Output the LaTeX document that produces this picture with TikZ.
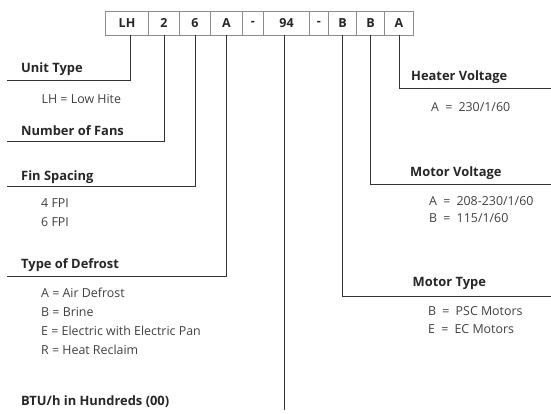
\documentclass[tikz,border=0pt]{standalone}
\usepackage{fontspec}
\setmainfont{Open Sans}
\usetikzlibrary{positioning}

\begin{document}
\begin{tikzpicture}[x=1pt, y=-1pt,
    digit/.style={draw=black!45, line width=0.8pt, minimum height=23.5pt, inner sep=0pt, text=black!85, font=\bfseries\fontsize{12.5}{14}\selectfont},
    lead/.style={draw=black!80, line width=0.9pt},
    heading/.style={anchor=base west, inner sep=0pt, text=black!85, font=\bfseries\fontsize{12.9}{15}\selectfont},
    entry/.style={anchor=base west, inner sep=0pt, text=black!75, font=\fontsize{12.4}{14}\selectfont}]
    \useasboundingbox (0,0) rectangle (551,413);

    % model number boxes
    \node[digit, minimum width=43pt] (lh) at (127, 23.3) {LH};
    \node[digit, minimum width=31pt] (fans) at (164, 23.3) {2};
    \node[digit, minimum width=31pt] (fin) at (195, 23.3) {6};
    \node[digit, minimum width=32pt] (defrost) at (226.5, 23.3) {A};
    \node[digit, minimum width=21pt] (dash1) at (253, 23.3) {-};
    \node[digit, minimum width=46pt] (btu) at (286.5, 23.3) {94};
    \node[digit, minimum width=19pt] (dash2) at (319, 23.3) {-};
    \node[digit, minimum width=28pt] (mtype) at (342.5, 23.3) {B};
    \node[digit, minimum width=28pt] (mvolt) at (370.5, 23.3) {B};
    \node[digit, minimum width=29pt] (hvolt) at (399, 23.3) {A};

    % left side
    \node[heading] (unithead) at (21, 72.7) {Unit Type};
    \node[entry] (unitlh) at (41.5, 103) {LH = Low Hite};
    \node[heading] (fanshead) at (21, 135) {Number of Fans};
    \node[heading] (finhead) at (21, 180) {Fin Spacing};
    \node[entry] (fin4) at (41, 207.7) {4 FPI};
    \node[entry] (fin6) at (41, 226.7) {6 FPI};
    \node[heading] (defhead) at (21, 268.5) {Type of Defrost};
    \node[entry] (defa) at (41, 297) {A = Air Defrost};
    \node[entry] (defb) at (41, 316) {B = Brine};
    \node[entry] (defe) at (41, 335.5) {E = Electric with Electric Pan};
    \node[entry] (defr) at (41, 354.5) {R = Heat Reclaim};
    \node[heading] (btuhead) at (21, 405) {BTU/h in Hundreds (00)};

    % right side
    \node[heading] (hvhead) at (411, 80.7) {Heater Voltage};
    \node[entry] (hva) at (431, 111.7) {A\enspace=\enspace230/1/60};
    \node[heading] (mvhead) at (410, 176) {Motor Voltage};
    \node[entry] (mva) at (429, 205) {A\enspace=\enspace208-230/1/60};
    \node[entry] (mvb) at (429, 222.5) {B\enspace=\enspace115/1/60};
    \node[heading] (mthead) at (412.5, 286) {Motor Type};
    \node[entry] (mtb) at (428, 315.7) {B\enspace=\enspace PSC Motors};
    \node[entry] (mte) at (428, 333.5) {E\enspace=\enspace EC Motors};

    % leader lines
    \coordinate (unitend) at (7, 80.7);
    \coordinate (fansend) at (7, 141.7);
    \coordinate (finend) at (7, 186.7);
    \coordinate (defend) at (7, 276.7);
    \coordinate (btuend) at (284, 410);
    \coordinate (mtend) at (551, 296.7);
    \coordinate (mvend) at (551, 184.5);
    \coordinate (hvend) at (551, 88.3);

    \draw[lead] ([xshift=3pt]lh.south) |- (unitend);
    \draw[lead] (fans.south) |- (fansend);
    \draw[lead] (fin.south) |- (finend);
    \draw[lead] (defrost.south) |- (defend);
    \draw[lead] (btu.south -| btuend) -- (btuend);
    \draw[lead] (mtype.south) |- (mtend);
    \draw[lead] (mvolt.south) |- (mvend);
    \draw[lead] (hvolt.south) |- (hvend);
\end{tikzpicture}
\end{document}
